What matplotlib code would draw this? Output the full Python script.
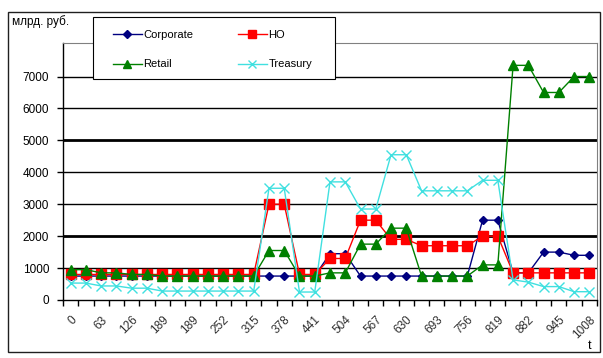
import matplotlib
matplotlib.use('Agg')
import matplotlib.pyplot as plt
from matplotlib.patches import Rectangle

plt.rcParams['font.family'] = ['Liberation Sans', 'DejaVu Sans']

# Axis labels (every second category is labelled)
tick_labels = ['0', '63', '126', '189', '189', '252', '315', '378', '441',
               '504', '567', '630', '693', '756', '819', '882', '945', '1008']

# Series values, bn rub., 35 periods
corporate = [750, 750, 750, 750, 750, 750, 750, 750, 750, 750, 750, 750, 750,
             750, 750, 750, 750, 1450, 1450, 750, 750, 750, 750, 750, 750,
             750, 750, 2500, 2500, 850, 850, 1500, 1500, 1400, 1400]
ho = [800, 800, 800, 800, 800, 800, 800, 800, 800, 800, 800, 800, 800,
      3000, 3000, 800, 800, 1300, 1300, 2500, 2500, 1900, 1900, 1700, 1700,
      1700, 1700, 2000, 2000, 850, 850, 850, 850, 850, 850]
retail = [950, 950, 850, 850, 800, 800, 750, 750, 750, 750, 750, 750, 750,
          1550, 1550, 750, 750, 850, 850, 1750, 1750, 2250, 2250, 750, 750,
          750, 750, 1100, 1100, 7350, 7350, 6500, 6500, 7000, 7000]
treasury = [530, 530, 440, 440, 370, 370, 280, 280, 280, 280, 280, 280, 280,
            3500, 3500, 250, 250, 3700, 3700, 2850, 2850, 4550, 4550, 3420, 3420,
            3420, 3420, 3750, 3750, 630, 560, 420, 420, 260, 260]

y_ticks = [0, 1000, 2000, 3000, 4000, 5000, 6000, 7000]
heavy_lines = [2000, 5000]

W, H = 603, 358
fig = plt.figure(figsize=(W / 100, H / 100), dpi=100)

# outer chart frame and legend box (pixel coords from top-left)
def box(x0, y0, x1, y1, **kw):
    fig.patches.append(Rectangle((x0 / W, 1 - y1 / H), (x1 - x0) / W, (y1 - y0) / H,
                                 transform=fig.transFigure, **kw))

box(8, 12, 600, 352, fill=False, edgecolor='#202020', linewidth=1.0)

ax = fig.add_axes([63 / W, 1 - 300 / H, 534 / W, 257 / H])
x = list(range(len(corporate)))

# horizontal grid
for v in y_ticks[1:]:
    ax.axhline(v, color='black', linewidth=2.0 if v in heavy_lines else 1.0, zorder=1)

ax.plot(x, corporate, color='#000080', marker='D', markersize=4.5, linewidth=1.0,
        label='Corporate', zorder=3)
ax.plot(x, ho, color='#FF0000', marker='s', markersize=7, linewidth=1.0,
        label='HO', zorder=3)
ax.plot(x, retail, color='#008000', marker='^', markersize=7, linewidth=1.0,
        label='Retail', zorder=3)
ax.plot(x, treasury, color='#40E0E0', marker='x', markersize=7, markeredgewidth=1.0,
        linewidth=1.0, label='Treasury', zorder=3)

ax.set_xlim(-0.5, len(x) - 0.5)
ax.set_ylim(0, 8050)

ax.set_yticks(y_ticks)
ax.set_yticklabels([str(v) for v in y_ticks], fontsize=8.5)
ax.tick_params(axis='y', direction='out', length=4, width=1, pad=6)

ax.set_xticks([i - 0.5 for i in range(len(x) + 1)], minor=True)
ax.set_xticks(list(range(0, len(x), 2)))
ax.set_xticklabels(tick_labels, rotation=45, ha='right', rotation_mode='anchor',
                   fontsize=8.5, color='#303030')
ax.tick_params(axis='x', which='major', length=0, pad=10)
ax.tick_params(axis='x', which='minor', direction='out', length=4, width=1)

for side in ['top', 'right']:
    ax.spines[side].set_color('#808080')
    ax.spines[side].set_linewidth(0.8)
ax.spines['left'].set_linewidth(1.0)
ax.spines['bottom'].set_linewidth(1.0)

fig.text(12 / W, 1 - 22 / H, 'млрд. руб.', fontsize=8.5, va='center')
fig.text(588 / W, 1 - 346 / H, 't', fontsize=9, va='center')

box(93, 17, 335, 79, facecolor='white', edgecolor='black', linewidth=0.8, zorder=5)
h, l = ax.get_legend_handles_labels()
order = [0, 2, 1, 3]
leg = fig.legend([h[i] for i in order], [l[i] for i in order], ncol=2,
                 loc='upper left', bbox_to_anchor=(113 / W, 1 - 30 / H),
                 fontsize=8, frameon=False, handlelength=2.6, labelspacing=1.75,
                 borderpad=0, borderaxespad=0, handletextpad=0.15,
                 columnspacing=4.0, markerscale=0.8)
leg.set_zorder(6)

fig.savefig('out.png', dpi=100)
